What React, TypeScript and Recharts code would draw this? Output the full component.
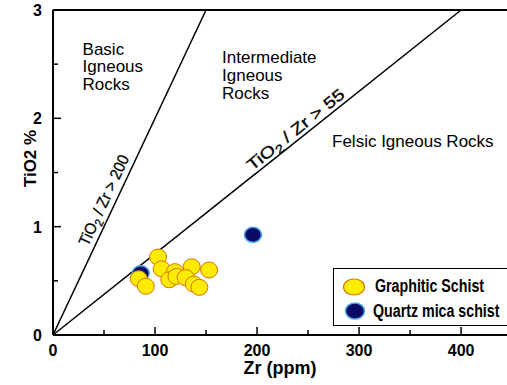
import {
  ScatterChart,
  Scatter,
  XAxis,
  YAxis,
  ReferenceLine,
  ReferenceDot,
  Legend,
} from "recharts";

// Graphitic schist samples
const zrGraphitic = [103, 106.5, 84, 91, 119.5, 136, 153, 114, 121, 130, 138, 143.5];
const tiGraphitic = [0.72, 0.61, 0.52, 0.45, 0.585, 0.63, 0.6, 0.51, 0.54, 0.53, 0.47, 0.44];

// Quartz mica schist samples
const zrQuartz = [86, 196];
const tiQuartz = [0.57, 0.925];

const xTicks = [0, 50, 100, 150, 200, 250, 300, 350, 400];
const yTicks = [0, 0.5, 1, 1.5, 2, 2.5, 3];

// discriminant lines TiO2/Zr (end points at top of plot)
const basicLine = [{ x: 0, y: 0 }, { x: 150, y: 3 }];
const felsicLine = [{ x: 0, y: 0 }, { x: 400, y: 3 }];

const graphitic = zrGraphitic.map((x, i) => ({ x, y: tiGraphitic[i] }));
const quartz = zrQuartz.map((x, i) => ({ x, y: tiQuartz[i] }));

const ARIAL = "'Liberation Sans', Arial, sans-serif";

const XTick = ({ x, y, payload }: any) => {
  const major = payload.value % 100 === 0;
  return (
    <g>
      <line x1={x} x2={x} y1={y} y2={y - (major ? 8 : 5)} stroke="#000" strokeWidth={1.5} />
      {major && (
        <text x={x} y={y + 21} textAnchor="middle" fontFamily={ARIAL} fontWeight="bold" fontSize={16} fill="#000">
          {payload.value}
        </text>
      )}
    </g>
  );
};

const YTick = ({ x, y, payload }: any) => {
  const major = Number.isInteger(payload.value);
  return (
    <g>
      <line x1={x} x2={x + (major ? 8 : 5)} y1={y} y2={y} stroke="#000" strokeWidth={1.5} />
      {major && (
        <text x={x - 11} y={y + 6} textAnchor="end" fontFamily={ARIAL} fontWeight="bold" fontSize={16} fill="#000">
          {payload.value}
        </text>
      )}
    </g>
  );
};

const block = (lines: string[], gap: number) => ({ viewBox }: any) => (
  <text x={viewBox.x} y={viewBox.y} fontFamily={ARIAL} fontSize={17} fill="#000">
    {lines.map((l, i) => (
      <tspan key={i} x={viewBox.x} dy={i === 0 ? 0 : gap}>
        {l}
      </tspan>
    ))}
  </text>
);

const ratioLabel = (rest: string, angle: number, len: number, off: number) => ({ viewBox }: any) => {
  const { x, y } = viewBox;
  return (
    <text
      x={x}
      y={y}
      dy={-off}
      transform={`rotate(${angle} ${x} ${y})`}
      textAnchor="middle"
      fontFamily={ARIAL}
      fontSize={16}
      stroke="#000"
      strokeWidth={0.3}
      fill="#000"
      textLength={len}
      lengthAdjust="spacingAndGlyphs"
    >
      TiO<tspan dy={4} fontSize={12}>2</tspan>
      <tspan dy={-4}>{rest}</tspan>
    </text>
  );
};

const yellowDot = ({ cx, cy }: any) => (
  <ellipse cx={cx} cy={cy} rx={8.5} ry={8} fill="#ffec00" stroke="#d9730a" strokeWidth={1} />
);
const blueDot = ({ cx, cy }: any) => (
  <ellipse cx={cx} cy={cy} rx={8.5} ry={7.5} fill="#0a0a66" stroke="#4aa6e6" strokeWidth={1.5} />
);

const narrow = { display: "inline-block", transform: "scaleX(0.79)", transformOrigin: "left center", whiteSpace: "nowrap" as const };

const LegendBox = () => (
  <div
    style={{
      width: 200,
      height: 58,
      border: "1.5px solid #000",
      background: "#fff",
      boxSizing: "border-box",
      fontFamily: ARIAL,
      fontWeight: "bold",
      fontSize: 18,
      color: "#000",
      paddingTop: 5,
      paddingLeft: 9,
    }}
  >
    <div style={{ display: "flex", alignItems: "center", height: 25 }}>
      <svg width={26} height={20} style={{ flex: "none" }}>
        <ellipse cx={11} cy={10} rx={10.5} ry={8} fill="#ffec00" stroke="#d9730a" strokeWidth={1.2} />
      </svg>
      <span style={{ ...narrow, marginLeft: 6 }}>Graphitic Schist</span>
    </div>
    <div style={{ display: "flex", alignItems: "center", height: 24 }}>
      <svg width={26} height={20} style={{ flex: "none" }}>
        <ellipse cx={12} cy={10} rx={9.5} ry={8} fill="#0a0a66" stroke="#4aa6e6" strokeWidth={1.5} />
      </svg>
      <span style={{ ...narrow, marginLeft: 4 }}>Quartz mica schist</span>
    </div>
  </div>
);

export default function App() {
  return (
    <div style={{ position: "absolute", left: 0, top: 0, background: "#fff" }}>
      <ScatterChart width={507} height={385} margin={{ top: 10, right: 0, bottom: 0, left: 0 }}>
        <XAxis
          type="number"
          dataKey="x"
          domain={[0, 445]}
          ticks={xTicks}
          interval={0}
          height={50}
          tickSize={0}
          tickMargin={0}
          tick={<XTick />}
          axisLine={{ stroke: "#000", strokeWidth: 2 }}
          allowDataOverflow
          label={{
            content: ({ viewBox }: any) => (
              <text
                x={viewBox.x + viewBox.width / 2}
                y={viewBox.y + 39}
                textAnchor="middle"
                fontFamily={ARIAL}
                fontWeight="bold"
                fontSize={18}
                fill="#000"
              >
                Zr (ppm)
              </text>
            ),
          }}
        />
        <YAxis
          type="number"
          dataKey="y"
          domain={[0, 3]}
          ticks={yTicks}
          interval={0}
          width={53}
          tickSize={0}
          tickMargin={0}
          tick={<YTick />}
          axisLine={{ stroke: "#000", strokeWidth: 2 }}
          label={{
            content: ({ viewBox }: any) => {
              const x = viewBox.x + 36;
              const y = viewBox.y + viewBox.height / 2 - 14;
              return (
                <text
                  x={x}
                  y={y}
                  transform={`rotate(-90 ${x} ${y})`}
                  textAnchor="middle"
                  fontFamily={ARIAL}
                  fontWeight="bold"
                  fontSize={17}
                  fill="#000"
                >
                  TiO2 %
                </text>
              );
            },
          }}
        />
        <ReferenceLine y={3} stroke="#000" strokeWidth={2} />
        <ReferenceLine segment={basicLine} stroke="#000" strokeWidth={1.5} />
        <ReferenceLine segment={felsicLine} stroke="#000" strokeWidth={1.5} />

        <ReferenceDot x={29} y={2.585} r={0} fill="none" stroke="none" label={{ content: block(["Basic", "Igneous", "Rocks"], 17.5) }} />
        <ReferenceDot x={165.7} y={2.511} r={0} fill="none" stroke="none" label={{ content: block(["Intermediate", "Igneous", "Rocks"], 18) }} />
        <ReferenceDot x={273.5} y={1.735} r={0} fill="none" stroke="none" label={{ content: block(["Felsic Igneous Rocks"], 0) }} />
        <ReferenceDot x={60} y={1.2} r={0} fill="none" stroke="none" label={{ content: ratioLabel(" / Zr > 200", -65, 98, 6) }} />
        <ReferenceDot x={243.7} y={1.828} r={0} fill="none" stroke="none" label={{ content: ratioLabel(" / Zr > 55", -38.7, 120, 4) }} />

        <Scatter name="Quartz mica schist" data={quartz} shape={blueDot} isAnimationActive={false} />
        <Scatter name="Graphitic Schist" data={graphitic} shape={yellowDot} isAnimationActive={false} />

        <Legend
          layout="horizontal"
          verticalAlign="middle"
          align="center"
          content={<LegendBox />}
          wrapperStyle={{ position: "absolute", left: 333, top: 268, width: 200, margin: 0 }}
        />
      </ScatterChart>
    </div>
  );
}
